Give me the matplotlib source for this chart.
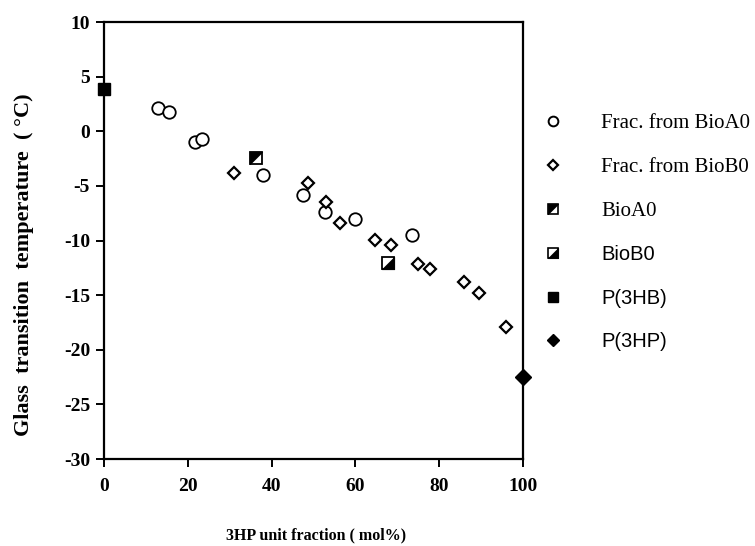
import numpy as np
import matplotlib
matplotlib.use('Agg')
import matplotlib.pyplot as plt
from matplotlib.lines import Line2D

plt.rcParams['axes.unicode_minus'] = False

# fractions from BioA0 (open circles)
frac_a_x = [12.9, 15.5, 21.7, 23.5, 37.9, 47.5, 52.8, 59.8, 73.4]
frac_a_y = [2.15, 1.72, -0.98, -0.74, -4.0, -5.8, -7.35, -8.05, -9.54]

# fractions from BioB0 (open diamonds)
frac_b_x = [31.0, 48.6, 53.0, 56.3, 64.8, 68.5, 74.9, 77.8, 86.0, 89.5, 95.9]
frac_b_y = [-3.8, -4.7, -6.5, -8.44, -9.94, -10.45, -12.15, -12.58, -13.76, -14.8, -17.9]

bioa0_x, bioa0_y = [36.2], [-2.43]
biob0_x, biob0_y = [67.8], [-12.1]
p3hb_x, p3hb_y = [0], [3.9]
p3hp_x, p3hp_y = [100], [-22.5]

labels = ['Frac. from BioA0', 'Frac. from BioB0', 'BioA0', 'BioB0', 'P(3HB)', 'P(3HP)']
label_fonts = ['Liberation Serif', 'Liberation Serif', 'Liberation Serif',
               'Liberation Sans', 'Liberation Sans', 'Liberation Sans']

# half filled squares: triangles for the black part
tri_upper_left = [(-1, -1), (-1, 1), (1, 1), (-1, -1)]
tri_lower_right = [(-1, -1), (1, -1), (1, 1), (-1, -1)]

serif = 'Liberation Serif'
fig = plt.figure(figsize=(7.55, 5.46), dpi=100)
ax = fig.add_axes([0.1377, 0.1593, 0.555, 0.8004])

ax.plot(frac_a_x, frac_a_y, 'o', ms=9, mfc='white', mec='black', mew=1.3, ls='none', zorder=3)
ax.plot(frac_b_x, frac_b_y, 'D', ms=5.8, mfc='white', mec='black', mew=1.6, ls='none', zorder=3)

ax.plot(bioa0_x, bioa0_y, 's', ms=9, mfc='white', mec='black', mew=1.3, ls='none', zorder=4)
ax.plot(bioa0_x, bioa0_y, marker=tri_upper_left, ms=9, mfc='black', mec='black', mew=0.5, ls='none', zorder=5)
ax.plot(biob0_x, biob0_y, 's', ms=9, mfc='white', mec='black', mew=1.3, ls='none', zorder=4)
ax.plot(biob0_x, biob0_y, marker=tri_lower_right, ms=9, mfc='black', mec='black', mew=0.5, ls='none', zorder=5)

ax.plot(p3hb_x, p3hb_y, 's', ms=9, mfc='black', mec='black', ls='none', zorder=5, clip_on=False)
ax.plot(p3hp_x, p3hp_y, 'D', ms=8, mfc='black', mec='black', ls='none', zorder=5, clip_on=False)

ax.set_xlim(0, 100)
ax.set_ylim(-30, 10)
ax.set_xticks(np.arange(0, 101, 20))
ax.set_yticks(np.arange(-30, 11, 5))
for s in ax.spines.values():
    s.set_linewidth(1.6)
ax.tick_params(direction='out', length=6, width=1.4)
ax.tick_params(axis='x', pad=8)
ax.tick_params(axis='y', pad=4)
for t in ax.get_xticklabels() + ax.get_yticklabels():
    t.set_fontfamily(serif)
    t.set_fontweight('bold')
    t.set_fontsize(14)

ax.set_ylabel('Glass  transition  temperature  ( \u00b0C)', family=serif, weight='bold', fontsize=16)
ax.yaxis.set_label_coords(-0.168, 0.444)
fig.text(0.418, 0.02, '3HP unit fraction ( mol%)', family=serif, weight='bold', fontsize=11.5,
         ha='center', va='center')

# legend
handles = [
    Line2D([], [], marker='o', ms=7, mfc='white', mec='black', mew=1.4, ls='none'),
    Line2D([], [], marker='D', ms=5, mfc='white', mec='black', mew=1.6, ls='none'),
    (Line2D([], [], marker='s', ms=7.5, mfc='white', mec='black', mew=1.2, ls='none'),
     Line2D([], [], marker=tri_upper_left, ms=7.5, mfc='black', mec='black', mew=0.5, ls='none')),
    (Line2D([], [], marker='s', ms=7.5, mfc='white', mec='black', mew=1.2, ls='none'),
     Line2D([], [], marker=tri_lower_right, ms=7.5, mfc='black', mec='black', mew=0.5, ls='none')),
    Line2D([], [], marker='s', ms=7.5, mfc='black', mec='black', ls='none'),
    Line2D([], [], marker='D', ms=6.5, mfc='black', mec='black', ls='none'),
]
leg = fig.legend(handles, labels, loc='upper left', bbox_to_anchor=(0.72, 0.792),
                 frameon=False, labelspacing=1.17, handletextpad=1.85, handlelength=0.9,
                 borderaxespad=0, borderpad=0,
                 prop={'family': serif, 'size': 15})
for t, f in zip(leg.get_texts(), label_fonts):
    t.set_fontfamily(f)
    if f == 'Liberation Sans':
        t.set_fontsize(14.5)

fig.savefig('out.png', dpi=100)
